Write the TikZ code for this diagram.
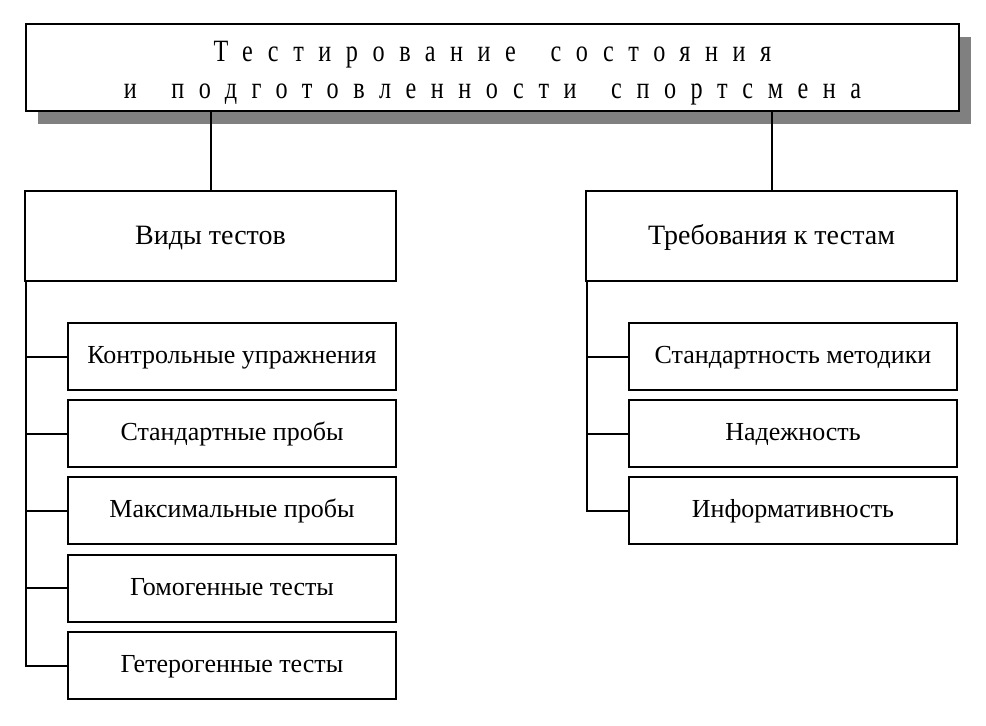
\documentclass[tikz,border=0pt]{standalone}
\usepackage{fontspec}
\setmainfont{Liberation Serif}
\newfontfamily\titlefont[FakeStretch=0.78,LetterSpace=47]{Liberation Serif}
\usetikzlibrary{shadows}
\begin{document}
\begin{tikzpicture}[x=1pt,y=-1pt,
  box/.style={draw=black,line width=2pt,fill=white,inner sep=0pt,outer sep=0pt},
  headbox/.style={box,minimum width=371pt,minimum height=90pt,text height=19pt,text depth=3pt,font=\fontsize{28}{32}\selectfont},
  childbox/.style={box,minimum width=328pt,minimum height=67pt,text height=17pt,text depth=3pt,font=\fontsize{26}{30}\selectfont},
  link/.style={line width=2pt}]
\useasboundingbox (0,0) rectangle (986,726);
\fill[white] (0,0) rectangle (986,726);
\node[box,minimum width=933pt,minimum height=87pt,
  drop shadow={shadow xshift=12pt,shadow yshift=-13pt,fill=black!50,opacity=1},
  align=center,font=\titlefont\fontsize{31}{37}\selectfont] (title) at (492.5,67.5)
  {\rule{0pt}{32pt}Тестирование\hspace{14pt} состояния\\и\hspace{14pt} подготовленности\hspace{14pt} спортсмена};
\node[headbox] (h1) at (210.5,236) {Виды тестов};
\node[headbox] (h2) at (771.5,236) {Требования к тестам};
\node[childbox] (a1) at (232,356.5) {Контрольные упражнения};
\node[childbox] (a2) at (232,433.5) {Стандартные пробы};
\node[childbox] (a3) at (232,510.5) {Максимальные пробы};
\node[childbox] (a4) at (232,588) {Гомогенные тесты};
\node[childbox] (a5) at (232,665.5) {Гетерогенные тесты};
\node[childbox] (b1) at (793,356.5) {Стандартность методики};
\node[childbox] (b2) at (793,433.5) {Надежность};
\node[childbox] (b3) at (793,510.5) {Информативность};
\coordinate (s1) at ([xshift=1pt]h1.south west);
\coordinate (s2) at ([xshift=1pt]h2.south west);
\draw[link] (h1.north) -- (h1.north |- title.south);
\draw[link] (h2.north) -- (h2.north |- title.south);
\draw[link] (s1) |- (a5.west);
\foreach \c in {a1,a2,a3,a4} \draw[link] (\c.west) -- (\c.west -| s1);
\draw[link] (s2) |- (b3.west);
\foreach \c in {b1,b2} \draw[link] (\c.west) -- (\c.west -| s2);
\end{tikzpicture}
\end{document}
